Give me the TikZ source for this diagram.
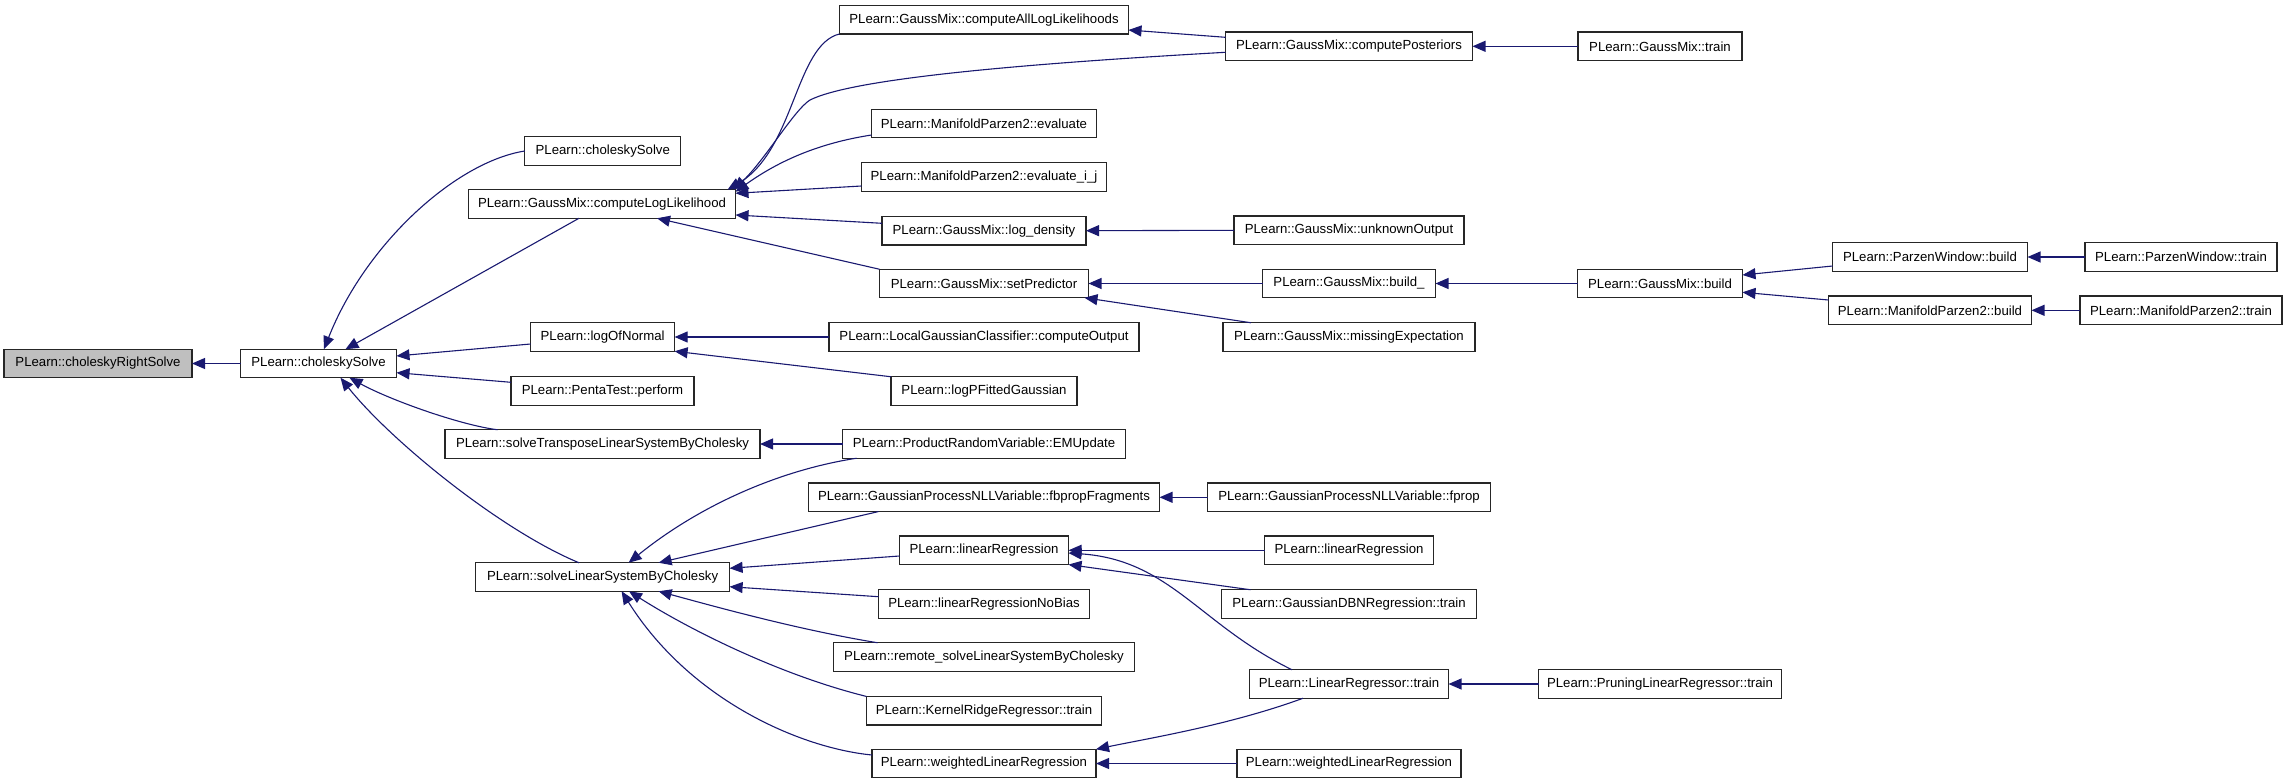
\documentclass[tikz,border=0pt]{standalone}
\usepackage{fontspec}
\setmainfont{Liberation Sans}
\usetikzlibrary{arrows.meta}
\definecolor{edgecol}{HTML}{191970}
\definecolor{graybox}{HTML}{BFBFBF}
\tikzset{
  box/.style={draw=black!85, line width=1.2pt, fill=white, minimum height=28.5pt,
    inner sep=0pt, outer sep=0pt, font=\fontsize{13.2}{15}\selectfont},
  edge/.style={draw=edgecol, line width=1.1pt, -{Triangle[length=13pt,width=11pt]}}
}
\begin{document}
\begin{tikzpicture}[x=1pt,y=-1pt]
\useasboundingbox (0,0) rectangle (2288,784);
% column 1
\node[box, fill=graybox, minimum width=188pt] (crs) at (98,363.5) {PLearn::choleskyRightSolve};
\node[box, minimum width=156pt] (cs) at (318.5,363.5) {PLearn::choleskySolve};
% column 2
\node[box, minimum width=156pt] (cs2) at (602.8,151) {PLearn::choleskySolve};
\node[box, minimum width=267pt] (cll) at (602,204) {PLearn::GaussMix::computeLogLikelihood};
\node[box, minimum width=144pt] (logn) at (602.6,337) {PLearn::logOfNormal};
\node[box, minimum width=183pt] (penta) at (602.5,391) {PLearn::PentaTest::perform};
\node[box, minimum width=315pt] (solvet) at (602.5,444) {PLearn::solveTransposeLinearSystemByCholesky};
\node[box, minimum width=254pt] (slsc) at (602.6,577) {PLearn::solveLinearSystemByCholesky};
% column 3
\node[box, minimum width=289pt] (calll) at (984,19.7) {PLearn::GaussMix::computeAllLogLikelihoods};
\node[box, minimum width=225pt] (meval) at (984,123.5) {PLearn::ManifoldParzen2::evaluate};
\node[box, minimum width=245pt] (mevalij) at (984,177) {PLearn::ManifoldParzen2::evaluate\_i\_j};
\node[box, minimum width=204pt] (logd) at (984,230.7) {PLearn::GaussMix::log\_density};
\node[box, minimum width=209pt] (setp) at (984,283.5) {PLearn::GaussMix::setPredictor};
\node[box, minimum width=310pt] (compout) at (984,337) {PLearn::LocalGaussianClassifier::computeOutput};
\node[box, minimum width=186pt] (logpf) at (984,391) {PLearn::logPFittedGaussian};
\node[box, minimum width=283pt] (emu) at (984,444) {PLearn::ProductRandomVariable::EMUpdate};
\node[box, minimum width=351pt] (fbp) at (984,497.3) {PLearn::GaussianProcessNLLVariable::fbpropFragments};
\node[box, minimum width=169pt] (lr1) at (984,550.3) {PLearn::linearRegression};
\node[box, minimum width=211pt] (nobias) at (984,604) {PLearn::linearRegressionNoBias};
\node[box, minimum width=301pt] (remote) at (984,657) {PLearn::remote\_solveLinearSystemByCholesky};
\node[box, minimum width=235pt] (kernel) at (984,710.7) {PLearn::KernelRidgeRegressor::train};
\node[box, minimum width=224pt] (wlr1) at (984,763.5) {PLearn::weightedLinearRegression};
% column 4
\node[box, minimum width=247pt] (cpost) at (1349,46.3) {PLearn::GaussMix::computePosteriors};
\node[box, minimum width=230pt] (unk) at (1349,230.3) {PLearn::GaussMix::unknownOutput};
\node[box, minimum width=173pt] (bld) at (1349,283.5) {PLearn::GaussMix::build\_};
\node[box, minimum width=252pt] (missexp) at (1349,337) {PLearn::GaussMix::missingExpectation};
\node[box, minimum width=283pt] (fprop) at (1349,497.3) {PLearn::GaussianProcessNLLVariable::fprop};
\node[box, minimum width=169pt] (lr2) at (1349,550.3) {PLearn::linearRegression};
\node[box, minimum width=255pt] (gdbn) at (1349,604) {PLearn::GaussianDBNRegression::train};
\node[box, minimum width=199pt] (lrt) at (1349,684) {PLearn::LinearRegressor::train};
\node[box, minimum width=224pt] (wlr2) at (1349,763.5) {PLearn::weightedLinearRegression};
% column 5
\node[box, minimum width=164pt] (gtrain) at (1660,46.3) {PLearn::GaussMix::train};
\node[box, minimum width=165pt] (gbuild) at (1660,283.5) {PLearn::GaussMix::build};
\node[box, minimum width=243pt] (prune) at (1660,684) {PLearn::PruningLinearRegressor::train};
% column 6
\node[box, minimum width=195pt] (pwb) at (1930,257) {PLearn::ParzenWindow::build};
\node[box, minimum width=203pt] (mpb) at (1930,310.3) {PLearn::ManifoldParzen2::build};
% column 7
\node[box, minimum width=192pt] (pwt) at (2181,257) {PLearn::ParzenWindow::train};
\node[box, minimum width=202pt] (mpt) at (2181,310.3) {PLearn::ManifoldParzen2::train};

% edges into choleskySolve
\draw[edge] (cs.west) -- (crs.east);
\draw[edge] (cs2.west) .. controls (455,162) and (365,245) .. ([xshift=5.5pt]cs.north);
\draw[edge] ([xshift=-23pt]cll.south) -- ([xshift=27pt]cs.north);
\draw[edge] ([yshift=-7pt]logn.west) -- ([yshift=7.5pt]cs.east);
\draw[edge] ([yshift=8.7pt]penta.west) -- ([yshift=-9.2pt]cs.east);
\draw[edge] ([xshift=-105pt]solvet.north) .. controls (460,425) and (390,400) .. ([xshift=31pt]cs.south);
\draw[edge] ([xshift=-23.6pt]slsc.north) .. controls (500,530) and (390,440) .. ([xshift=22pt]cs.south);

% edges into computeLogLikelihood
\draw[edge] (calll.south west) .. controls (795,45) and (795,150) .. ([xshift=-8pt]cll.north east);
\draw[edge] ([yshift=-6pt]cpost.west) .. controls (1000,65) and (850,80) .. (810,100) .. controls (794,110) and (765,160) .. ([xshift=-2pt]cll.north east);
\draw[edge] ([yshift=-11.5pt]meval.west) .. controls (820,143) and (780,160) .. ([yshift=-2pt]cll.north east);
\draw[edge] ([yshift=-9pt]mevalij.west) -- ([yshift=10.7pt]cll.east);
\draw[edge] ([yshift=7.4pt]logd.west) -- ([yshift=-11pt]cll.east);
\draw[edge] (setp.north west) -- ([xshift=55pt]cll.south);

% right part, top
\draw[edge] ([yshift=9pt]cpost.west) -- ([yshift=-10.3pt]calll.east);
\draw[edge] (gtrain.west) -- (cpost.east);
\draw[edge] (unk.west) -- (logd.east);
\draw[edge] (bld.west) -- (setp.east);
\draw[edge] ([xshift=-98pt]missexp.north) -- ([xshift=-4pt]setp.south east);
\draw[edge] (gbuild.west) -- (bld.east);
\draw[edge] ([yshift=-9pt]pwb.west) -- ([yshift=8.5pt]gbuild.east);
\draw[edge] ([yshift=10.3pt]mpb.west) -- ([yshift=-8.8pt]gbuild.east);
\draw[edge] (pwt.west) -- (pwb.east);
\draw[edge] (mpt.west) -- (mpb.east);

% logOfNormal, solveTranspose
\draw[edge] (compout.west) -- (logn.east);
\draw[edge] (logpf.north west) -- (logn.south east);
\draw[edge] (emu.west) -- (solvet.east);

% edges into solveLinearSystemByCholesky
\draw[edge] ([xshift=14pt]emu.south west) .. controls (780,470) and (700,505) .. ([xshift=26pt]slsc.north);
\draw[edge] ([xshift=70pt]fbp.south west) -- ([xshift=56pt]slsc.north);
\draw[edge] ([yshift=-5.7pt]lr1.west) -- ([yshift=8.7pt]slsc.east);
\draw[edge] ([yshift=7.3pt]nobias.west) -- ([yshift=-9.7pt]slsc.east);
\draw[edge] ([xshift=44pt]remote.north west) .. controls (800,630) and (720,608) .. ([xshift=56pt]slsc.south);
\draw[edge] (kernel.north west) .. controls (780,675) and (690,630) .. ([xshift=26.4pt]slsc.south);
\draw[edge] ([yshift=8.5pt]wlr1.west) .. controls (800,748) and (690,700) .. ([xshift=19pt]slsc.south);

% lower right
\draw[edge] (fprop.west) -- (fbp.east);
\draw[edge] (lr2.west) -- (lr1.east);
\draw[edge] ([xshift=29pt]gdbn.north west) -- (lr1.south east);
\draw[edge] ([xshift=-57pt]lrt.north) .. controls (1200,625) and (1170,560) .. ([yshift=-2.7pt]lr1.east);
\draw[edge] (wlr2.west) -- (wlr1.east);
\draw[edge] ([xshift=-46pt]lrt.south) .. controls (1230,725) and (1150,738) .. (wlr1.north east);
\draw[edge] (prune.west) -- (lrt.east);
\end{tikzpicture}
\end{document}
